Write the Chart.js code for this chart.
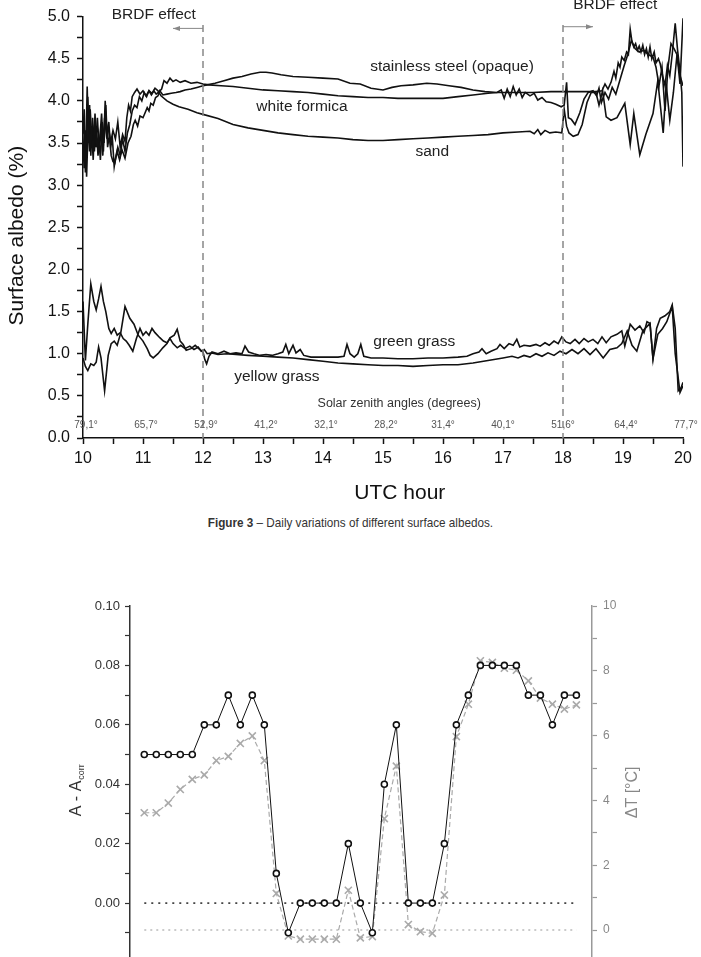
<!DOCTYPE html>
<html>
<head>
<meta charset="utf-8">
<script src="https://cdn.jsdelivr.net/npm/chart.js@4.4.1/dist/chart.umd.min.js"></script>
<style>
  html, body { margin: 0; padding: 0; background: #fff; overflow: hidden; }
  #page { position: relative; width: 701px; height: 957px; overflow: hidden; }
  #albedo { position: absolute; left: 0; top: 0; }
  #caption {
    position: absolute; left: 0; top: 515px; width: 701px; text-align: center;
    font-family: "Liberation Sans Narrow", "Arial Narrow", "Liberation Sans", sans-serif;
    font-size: 13px; color: #333; transform: scaleX(0.9); transform-origin: 350px 0;
  }
  #corr { position: absolute; left: 0; top: 580px; }
</style>
</head>
<body>
<div id="page">
  <canvas id="albedo" width="701" height="510"></canvas>
  <div id="caption"><b>Figure 3</b> – Daily variations of different surface albedos.</div>
  <canvas id="corr" width="701" height="400"></canvas>
</div>
<script>
// ---- Figure 3 data: [UTC hour, albedo %] ----
const steel = [[10.00,3.50],[10.02,3.20],[10.04,3.65],[10.06,3.10],[10.09,3.80],[10.11,3.40],[10.14,3.70],[10.17,3.30],[10.20,3.85],[10.23,3.45],[10.26,3.60],[10.29,3.30],[10.32,3.75],[10.35,3.50],[10.38,3.95],[10.41,3.45],[10.44,3.60],[10.47,3.35],[10.50,3.28],[10.53,3.26],[10.57,3.40],[10.61,3.30],[10.65,3.42],[10.70,3.32],[10.75,3.50],[10.80,3.58],[10.84,3.72],[10.87,3.77],[10.91,3.70],[10.95,3.82],[11.00,3.80],[11.03,3.85],[11.07,3.92],[11.10,3.88],[11.13,3.97],[11.17,3.95],[11.21,4.04],[11.25,4.06],[11.28,4.12],[11.33,4.07],[11.40,4.08],[11.47,4.09],[11.55,4.10],[11.62,4.11],[11.70,4.13],[11.80,4.14],[11.90,4.16],[12.00,4.18],[12.07,4.19],[12.20,4.21],[12.35,4.24],[12.50,4.27],[12.65,4.29],[12.80,4.32],[12.95,4.34],[13.05,4.34],[13.15,4.33],[13.30,4.31],[13.50,4.29],[13.75,4.28],[14.00,4.27],[14.25,4.26],[14.45,4.21],[14.62,4.20],[14.80,4.15],[15.00,4.13],[15.15,4.16],[15.30,4.18],[15.50,4.19],[15.73,4.21],[15.90,4.20],[16.10,4.18],[16.30,4.16],[16.50,4.13],[16.70,4.11],[16.90,4.10],[17.20,4.10],[17.50,4.10],[17.80,4.11],[18.00,4.11],[18.30,4.11],[18.55,4.11],[18.65,4.12],[18.70,4.20],[18.75,4.14],[18.80,4.22],[18.85,4.35],[18.88,4.27],[18.92,4.45],[18.95,4.40],[18.98,4.52],[19.02,4.48],[19.06,4.58],[19.09,4.55],[19.12,4.85],[19.15,4.70],[19.18,4.64],[19.21,4.68],[19.24,4.60],[19.27,4.65],[19.30,4.58],[19.33,4.66],[19.36,4.55],[19.39,4.62],[19.42,4.52],[19.45,4.64],[19.48,4.50],[19.52,4.58],[19.55,4.45],[19.59,4.50],[19.62,4.44],[19.66,4.30],[19.70,4.18],[19.74,4.42],[19.78,4.30],[19.82,4.55],[19.87,4.92],[19.91,4.60],[19.95,4.35],[19.98,4.10],[20.00,3.22]];
const formica = [[10.00,3.30],[10.02,3.60],[10.04,3.15],[10.07,4.17],[10.09,3.50],[10.11,3.95],[10.13,3.35],[10.16,3.80],[10.19,3.40],[10.22,3.70],[10.25,3.35],[10.28,3.55],[10.31,3.85],[10.34,3.40],[10.37,4.00],[10.40,3.55],[10.43,3.75],[10.46,3.45],[10.49,3.55],[10.52,3.22],[10.55,3.35],[10.58,3.45],[10.62,3.35],[10.66,3.55],[10.70,3.40],[10.74,3.62],[10.78,3.72],[10.82,3.88],[10.86,3.95],[10.90,3.92],[10.94,4.05],[10.98,4.00],[11.02,4.10],[11.06,4.05],[11.10,4.12],[11.14,4.07],[11.18,4.12],[11.22,4.08],[11.27,4.11],[11.31,4.14],[11.35,4.24],[11.40,4.21],[11.45,4.27],[11.50,4.23],[11.55,4.25],[11.62,4.22],[11.70,4.24],[11.80,4.21],[11.90,4.22],[12.00,4.20],[12.10,4.19],[12.30,4.18],[12.50,4.17],[12.75,4.15],[13.00,4.13],[13.25,4.12],[13.50,4.11],[13.75,4.10],[14.00,4.08],[14.25,4.06],[14.50,4.05],[14.75,4.04],[15.00,4.04],[15.25,4.03],[15.50,4.03],[15.75,4.03],[16.00,4.03],[16.25,4.05],[16.50,4.07],[16.75,4.09],[16.90,4.10],[16.97,4.13],[17.02,4.03],[17.07,4.14],[17.12,4.05],[17.17,4.17],[17.22,4.07],[17.27,4.14],[17.32,4.04],[17.37,4.10],[17.45,4.06],[17.52,4.09],[17.58,4.01],[17.65,4.04],[17.72,3.99],[17.80,3.98],[17.88,3.96],[17.97,3.93],[18.02,3.95],[18.06,4.22],[18.09,3.80],[18.14,3.78],[18.20,3.72],[18.28,3.86],[18.35,4.02],[18.42,4.10],[18.50,4.12],[18.56,4.06],[18.60,4.15],[18.64,3.98],[18.70,4.10],[18.76,4.02],[18.82,4.16],[18.88,4.08],[18.95,4.25],[19.02,4.42],[19.08,4.55],[19.14,4.72],[19.20,4.62],[19.27,4.58],[19.35,4.60],[19.42,4.55],[19.50,4.52],[19.55,4.40],[19.60,4.18],[19.65,4.40],[19.70,3.88],[19.75,4.40],[19.80,4.68],[19.85,4.62],[19.90,4.55],[19.95,4.30],[20.00,4.18]];
const sand = [[10.00,3.60],[10.02,3.90],[10.04,3.25],[10.06,3.45],[10.08,4.05],[10.10,3.60],[10.12,3.90],[10.15,3.50],[10.18,3.65],[10.21,3.45],[10.24,3.80],[10.27,3.40],[10.30,3.65],[10.33,3.35],[10.36,3.80],[10.39,3.60],[10.42,3.70],[10.46,3.50],[10.50,3.65],[10.54,3.55],[10.58,3.75],[10.62,3.45],[10.66,3.60],[10.70,3.52],[10.73,3.80],[10.76,3.95],[10.79,3.88],[10.82,4.05],[10.86,4.10],[10.90,4.14],[10.95,4.08],[11.00,4.12],[11.05,4.06],[11.10,4.12],[11.15,4.09],[11.20,4.15],[11.25,4.12],[11.30,4.06],[11.40,4.00],[11.50,3.96],[11.60,3.93],[11.75,3.90],[11.90,3.86],[12.00,3.84],[12.25,3.79],[12.50,3.72],[12.75,3.68],[13.00,3.65],[13.25,3.62],[13.50,3.60],[13.75,3.58],[14.00,3.57],[14.25,3.56],[14.50,3.54],[14.75,3.53],[15.00,3.53],[15.25,3.54],[15.50,3.55],[15.75,3.56],[16.00,3.57],[16.25,3.58],[16.50,3.59],[16.75,3.60],[17.00,3.62],[17.25,3.63],[17.45,3.64],[17.52,3.61],[17.58,3.66],[17.63,3.60],[17.70,3.65],[17.78,3.62],[17.88,3.63],[17.98,3.62],[18.02,3.90],[18.06,3.70],[18.10,3.62],[18.17,3.58],[18.25,3.60],[18.32,3.72],[18.40,3.98],[18.47,4.10],[18.55,4.10],[18.60,3.95],[18.66,4.12],[18.72,3.81],[18.80,3.77],[18.90,3.80],[19.03,3.97],[19.12,3.48],[19.18,3.85],[19.28,3.36],[19.38,3.60],[19.50,3.85],[19.58,4.24],[19.67,3.62],[19.72,4.20],[19.78,3.77],[19.84,4.10],[19.90,4.55],[19.95,4.20],[20.00,4.98]];
const greenGrass = [[10.00,0.95],[10.04,0.85],[10.08,0.80],[10.13,0.88],[10.18,0.86],[10.22,0.90],[10.26,1.08],[10.30,0.95],[10.36,0.56],[10.42,0.98],[10.47,1.12],[10.52,1.15],[10.57,1.10],[10.63,1.25],[10.70,1.56],[10.78,1.42],[10.85,1.35],[10.92,1.22],[11.00,1.15],[11.07,1.06],[11.12,0.98],[11.17,0.95],[11.25,1.00],[11.33,1.07],[11.40,1.12],[11.45,1.19],[11.52,1.22],[11.57,1.29],[11.62,1.15],[11.67,1.11],[11.72,1.04],[11.80,1.06],[11.87,1.10],[11.93,1.06],[12.00,1.02],[12.03,0.93],[12.06,0.88],[12.10,0.97],[12.15,1.02],[12.25,1.00],[12.35,1.03],[12.45,1.00],[12.55,1.01],[12.65,1.00],[12.70,1.09],[12.76,1.02],[12.85,1.00],[12.95,0.98],[13.05,0.99],[13.15,0.98],[13.25,1.00],[13.33,1.02],[13.38,1.11],[13.43,1.00],[13.50,1.10],[13.55,1.01],[13.62,1.05],[13.68,0.98],[13.80,0.96],[13.95,0.96],[14.10,0.96],[14.25,0.96],[14.35,0.97],[14.40,1.11],[14.45,1.00],[14.52,0.96],[14.58,1.00],[14.63,1.11],[14.68,0.97],[14.80,0.95],[15.00,0.95],[15.25,0.94],[15.50,0.94],[15.75,0.95],[16.00,0.95],[16.25,0.96],[16.40,0.97],[16.50,1.00],[16.60,1.02],[16.65,1.06],[16.72,1.00],[16.80,1.03],[16.90,1.06],[16.95,1.11],[17.02,1.06],[17.10,1.12],[17.17,1.10],[17.23,1.17],[17.28,1.08],[17.35,1.10],[17.45,1.09],[17.55,1.11],[17.62,1.09],[17.70,1.13],[17.77,1.10],[17.85,1.15],[17.92,1.12],[17.98,1.20],[18.05,1.14],[18.12,1.12],[18.20,1.17],[18.27,1.12],[18.35,1.18],[18.42,1.14],[18.50,1.17],[18.58,1.12],[18.65,1.20],[18.72,1.13],[18.80,1.20],[18.90,1.23],[18.98,1.27],[19.03,1.09],[19.12,1.35],[19.20,1.28],[19.28,1.33],[19.35,1.25],[19.40,1.38],[19.45,1.36],[19.50,0.94],[19.56,1.30],[19.62,1.42],[19.70,1.45],[19.78,1.50],[19.82,1.58],[19.87,1.30],[19.92,0.56],[19.97,0.60],[20.00,0.66]];
const yellowGrass = [[10.00,1.62],[10.04,0.92],[10.08,1.35],[10.13,1.83],[10.18,1.62],[10.22,1.52],[10.26,1.65],[10.30,1.80],[10.34,1.62],[10.38,1.50],[10.43,1.30],[10.47,1.24],[10.52,1.30],[10.57,1.22],[10.62,1.25],[10.67,1.18],[10.72,1.15],[10.77,1.10],[10.83,1.03],[10.89,1.18],[10.95,1.30],[11.00,1.22],[11.05,1.26],[11.10,1.22],[11.15,1.30],[11.20,1.25],[11.28,1.19],[11.34,1.15],[11.40,1.13],[11.45,1.18],[11.50,1.12],[11.57,1.07],[11.63,1.10],[11.70,1.06],[11.78,1.09],[11.85,1.05],[11.92,1.08],[11.97,1.03],[12.02,1.05],[12.07,1.00],[12.15,1.01],[12.25,0.99],[12.40,1.00],[12.55,0.99],[12.75,0.98],[13.00,0.97],[13.25,0.96],[13.50,0.95],[13.75,0.93],[14.00,0.91],[14.25,0.89],[14.50,0.88],[14.75,0.87],[15.00,0.86],[15.25,0.86],[15.50,0.85],[15.75,0.86],[16.00,0.87],[16.25,0.87],[16.50,0.89],[16.75,0.92],[17.00,0.95],[17.15,0.97],[17.25,0.95],[17.35,0.98],[17.45,0.96],[17.55,1.00],[17.65,0.97],[17.75,1.01],[17.85,0.98],[17.95,1.03],[18.05,1.00],[18.15,1.05],[18.25,1.00],[18.35,1.06],[18.45,0.99],[18.55,1.06],[18.67,0.95],[18.78,1.05],[18.90,1.07],[18.98,1.12],[19.07,1.27],[19.15,1.10],[19.23,1.03],[19.33,1.27],[19.45,1.36],[19.50,0.94],[19.58,1.23],[19.66,1.30],[19.73,1.38],[19.82,1.56],[19.87,1.00],[19.95,0.54],[20.00,0.62]];

const brdfHours = [12, 18];
const zenithHours = [10.05, 11.05, 12.05, 13.05, 14.05, 15.05, 16.0, 17.0, 18.0, 19.05, 20.05];
const zenithLabels = ['79,1°', '65,7°', '52,9°', '41,2°', '32,1°', '28,2°', '31,4°', '40,1°', '51,6°', '64,4°', '77,7°'];
// curve labels: [text, hour, albedo]
const curveLabels = [
    ['stainless steel (opaque)', 16.15, 4.41],
    ['white formica', 13.65, 3.93],
    ['sand', 15.82, 3.40],
    ['green grass', 15.52, 1.14],
    ['yellow grass', 13.23, 0.73]
];

// ---- second figure data ----
const sampleNo = [1,2,3,4,5,6,7,8,9,10,11,12,13,14,15,16,17,18,19,20,21,22,23,24,25,26,27,28,29,30,31,32,33,34,35,36,37];
const albedoDiff = [0.05,0.05,0.05,0.05,0.05,0.06,0.06,0.07,0.06,0.07,0.06,0.01,-0.01,0.00,0.00,0.00,0.00,0.02,0.00,-0.01,0.04,0.06,0.00,0.00,0.00,0.02,0.06,0.07,0.08,0.08,0.08,0.08,0.07,0.07,0.06,0.07,0.07];
const deltaT = [3.62,3.62,3.92,4.34,4.65,4.79,5.23,5.36,5.76,5.99,5.23,1.13,-0.18,-0.28,-0.28,-0.28,-0.28,1.23,-0.24,-0.20,3.44,5.06,0.17,-0.05,-0.10,1.08,5.97,6.97,8.31,8.26,8.08,8.02,7.69,7.16,6.97,6.82,6.95];
const zeroDiff = 0;
const zeroDeltaT = 0;

const FONT = '"Liberation Sans", Arial, sans-serif';
const INK = '#111';

function toXY(pairs) {
    return pairs.map(p => ({ x: p[0], y: p[1] }));
}

function albedoLine(label, pairs) {
    return {
        label: label,
        data: toXY(pairs),
        borderColor: INK,
        borderWidth: 1.6,
        pointRadius: 0,
        tension: 0,
        fill: false
    };
}

// annotations for the albedo figure
const albedoNotes = {
    id: 'albedoNotes',
    afterDatasetsDraw(chart) {
        const { ctx, scales: { x, y } } = chart;
        ctx.save();

        // BRDF dashed guides and arrows
        ctx.strokeStyle = '#888';
        ctx.lineWidth = 1.5;
        ctx.setLineDash([7, 5]);
        brdfHours.forEach(h => {
            ctx.beginPath();
            ctx.moveTo(x.getPixelForValue(h), y.getPixelForValue(4.9));
            ctx.lineTo(x.getPixelForValue(h), y.getPixelForValue(0));
            ctx.stroke();
        });
        ctx.setLineDash([]);
        ctx.lineWidth = 1;
        const arrow = (from, to, v) => {
            const x0 = x.getPixelForValue(from), x1 = x.getPixelForValue(to), py = y.getPixelForValue(v);
            const dir = Math.sign(x1 - x0);
            ctx.beginPath();
            ctx.moveTo(x0, py);
            ctx.lineTo(x1, py);
            ctx.stroke();
            ctx.beginPath();
            ctx.moveTo(x1, py);
            ctx.lineTo(x1 - dir * 7, py - 2.5);
            ctx.lineTo(x1 - dir * 7, py + 2.5);
            ctx.closePath();
            ctx.fillStyle = '#888';
            ctx.fill();
        };
        arrow(12, 11.5, 4.86);
        arrow(18, 18.5, 4.88);

        ctx.fillStyle = '#222';
        ctx.textAlign = 'center';
        ctx.textBaseline = 'middle';
        ctx.font = '15.5px ' + FONT;
        ctx.fillText('BRDF effect', x.getPixelForValue(11.18), y.getPixelForValue(5.02));
        ctx.fillText('BRDF effect', x.getPixelForValue(18.87), y.getPixelForValue(5.14));

        curveLabels.forEach(l => {
            ctx.fillText(l[0], x.getPixelForValue(l[1]), y.getPixelForValue(l[2]));
        });

        ctx.fillStyle = '#333';
        ctx.font = '12.5px ' + FONT;
        ctx.fillText('Solar zenith angles (degrees)', x.getPixelForValue(15.27), y.getPixelForValue(0.41));
        ctx.fillStyle = '#555';
        ctx.font = '10px ' + FONT;
        zenithHours.forEach((h, i) => {
            ctx.fillText(zenithLabels[i], x.getPixelForValue(h), y.getPixelForValue(0.15));
        });

        // axis titles
        ctx.fillStyle = INK;
        ctx.font = '21px ' + FONT;
        ctx.fillText('UTC hour', x.getPixelForValue(15.28), 493);
        ctx.translate(17, y.getPixelForValue(2.4));
        ctx.rotate(-Math.PI / 2);
        ctx.fillText('Surface albedo (%)', 0, 0);
        ctx.restore();
    }
};

new Chart(document.getElementById('albedo'), {
    type: 'line',
    data: {
        datasets: [
            albedoLine('stainless steel (opaque)', steel),
            albedoLine('white formica', formica),
            albedoLine('sand', sand),
            albedoLine('green grass', greenGrass),
            albedoLine('yellow grass', yellowGrass)
        ]
    },
    options: {
        responsive: false,
        animation: false,
        events: [],
        layout: { padding: { left: 0, right: 18, top: 12, bottom: 0 } },
        plugins: { legend: { display: false }, tooltip: { enabled: false } },
        scales: {
            x: {
                type: 'linear',
                min: 10,
                max: 20,
                afterFit(scale) { scale.height = 72; },
                border: { display: true, color: INK, width: 1.5 },
                grid: { drawOnChartArea: false, tickLength: 6, tickColor: INK, tickWidth: 1.5 },
                ticks: {
                    stepSize: 0.5,
                    autoSkip: false,
                    maxRotation: 0,
                    padding: 5,
                    color: INK,
                    font: { family: FONT, size: 16 },
                    callback: v => Number.isInteger(v) ? String(v) : ''
                }
            },
            y: {
                min: 0,
                max: 5,
                afterFit(scale) { scale.width = 83; },
                border: { display: true, color: INK, width: 1.5 },
                grid: { drawOnChartArea: false, tickLength: 6, tickColor: INK, tickWidth: 1.5 },
                ticks: {
                    stepSize: 0.25,
                    autoSkip: false,
                    padding: 7,
                    color: INK,
                    font: { family: FONT, size: 16 },
                    callback: v => Math.abs(v * 2 - Math.round(v * 2)) < 1e-6 ? v.toFixed(1) : ''
                }
            }
        }
    },
    plugins: [albedoNotes]
});

// ---- second figure ----
const corrTitles = {
    id: 'corrTitles',
    afterDraw(chart) {
        const { ctx } = chart;
        const mid = (chart.chartArea.top + chart.chartArea.bottom) / 2;
        ctx.save();
        ctx.textBaseline = 'alphabetic';
        ctx.textAlign = 'left';
        // left title: A - A_corr
        ctx.save();
        ctx.translate(81, mid + 32);
        ctx.rotate(-Math.PI / 2);
        ctx.fillStyle = '#333';
        ctx.font = '16px ' + FONT;
        ctx.fillText('A - A', 0, 0);
        const w = ctx.measureText('A - A').width;
        ctx.font = '9px ' + FONT;
        ctx.fillText('corr', w + 1, 3);
        ctx.restore();
        // right title
        ctx.save();
        ctx.translate(637, mid + 34);
        ctx.rotate(-Math.PI / 2);
        ctx.fillStyle = '#888';
        ctx.font = '16px ' + FONT;
        ctx.fillText('\u0394T [\u00B0C]', 0, 0);
        ctx.restore();
        ctx.restore();
    }
};

new Chart(document.getElementById('corr'), {
    type: 'line',
    data: {
        datasets: [
            {
                label: 'A - Acorr',
                data: sampleNo.map((n, i) => ({ x: n, y: albedoDiff[i] })),
                yAxisID: 'yL',
                borderColor: INK,
                borderWidth: 1,
                pointStyle: 'circle',
                pointRadius: 3,
                pointBorderWidth: 1.6,
                pointBackgroundColor: '#fff',
                pointBorderColor: INK,
                tension: 0
            },
            {
                label: 'dT',
                data: sampleNo.map((n, i) => ({ x: n, y: deltaT[i] })),
                yAxisID: 'yR',
                borderColor: '#aaa',
                borderWidth: 1.2,
                borderDash: [5, 3],
                pointStyle: 'crossRot',
                pointRadius: 5,
                pointBorderWidth: 1.6,
                pointBorderColor: '#aaa',
                tension: 0
            },
            {
                label: 'zero A',
                data: [{ x: sampleNo[0], y: zeroDiff }, { x: sampleNo[sampleNo.length - 1], y: zeroDiff }],
                yAxisID: 'yL',
                borderColor: '#444',
                borderWidth: 1.8,
                borderDash: [2, 5],
                pointRadius: 0
            },
            {
                label: 'zero dT',
                data: [{ x: sampleNo[0], y: zeroDeltaT }, { x: sampleNo[sampleNo.length - 1], y: zeroDeltaT }],
                yAxisID: 'yR',
                borderColor: '#bbb',
                borderWidth: 1.5,
                borderDash: [2, 4],
                pointRadius: 0
            }
        ]
    },
    options: {
        responsive: false,
        animation: false,
        events: [],
        layout: { padding: { left: 0, right: 0, top: 26, bottom: 17.5 } },
        plugins: { legend: { display: false }, tooltip: { enabled: false } },
        scales: {
            x: { type: 'linear', min: -0.19, max: 38.3, display: false },
            yL: {
                position: 'left',
                min: -0.02,
                max: 0.10,
                afterFit(scale) { scale.width = 130; },
                border: { display: true, color: '#333', width: 1.5 },
                grid: { drawOnChartArea: false, tickLength: 5, tickColor: '#333', tickWidth: 1.2 },
                ticks: {
                    stepSize: 0.01,
                    autoSkip: false,
                    padding: 5,
                    color: '#333',
                    font: { family: FONT, size: 13 },
                    callback: v => Math.round(v * 100) % 2 === 0 ? v.toFixed(2) : ''
                }
            },
            yR: {
                position: 'right',
                min: -1,
                max: 10,
                afterFit(scale) { scale.width = 109; },
                border: { display: true, color: '#999', width: 1.5 },
                grid: { drawOnChartArea: false, tickLength: 5, tickColor: '#999', tickWidth: 1.2 },
                ticks: {
                    stepSize: 1,
                    autoSkip: false,
                    padding: 6,
                    color: '#888',
                    font: { family: FONT, size: 12 },
                    callback: v => v % 2 === 0 ? String(v) : ''
                }
            }
        }
    },
    plugins: [corrTitles]
});
</script>
</body>
</html>
